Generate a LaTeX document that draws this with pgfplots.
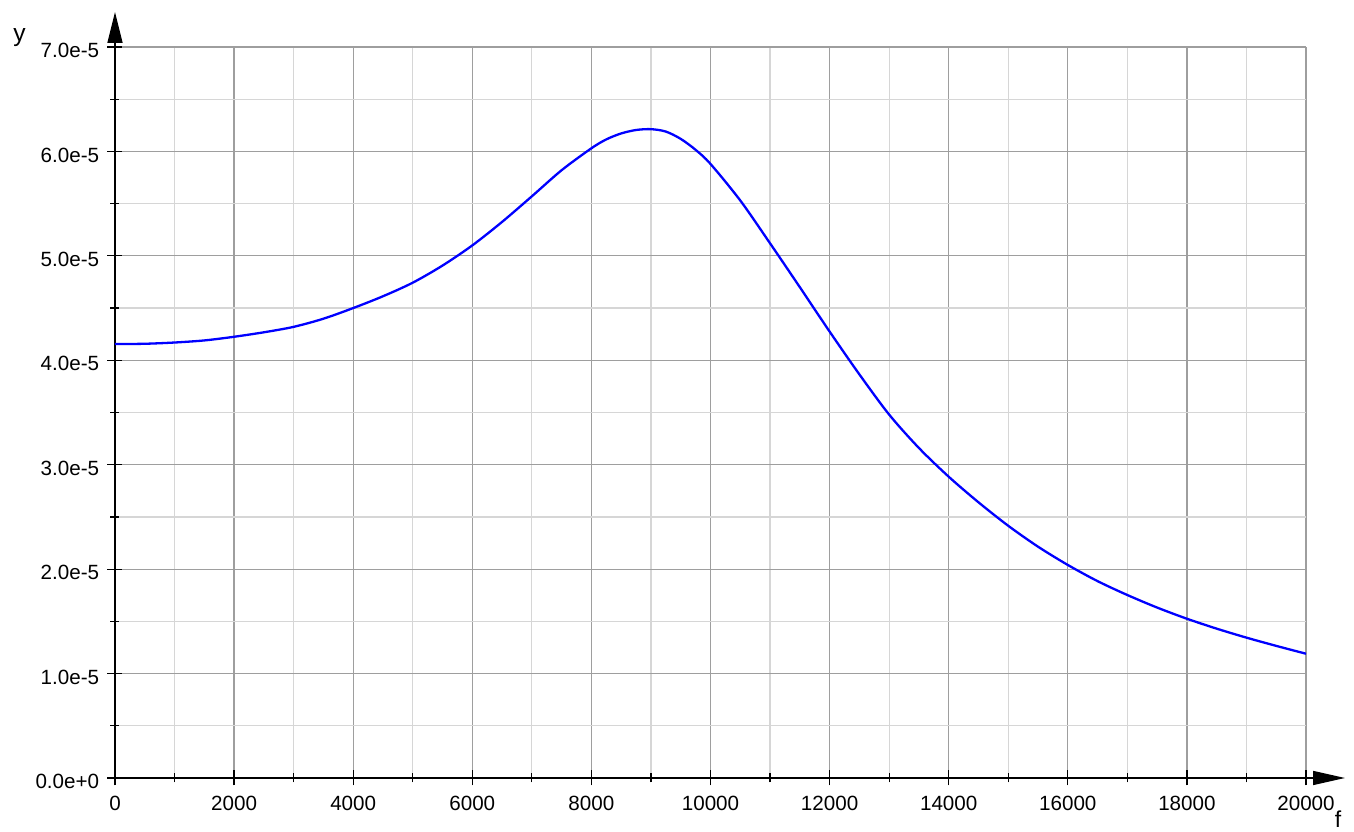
\documentclass[border=0pt]{standalone}
\usepackage{fontspec}
\setmainfont{Liberation Sans}
\usepackage{pgfplots}
\pgfplotsset{compat=1.18}
\usetikzlibrary{arrows.meta,calc}
\definecolor{majgrid}{RGB}{158,158,158}
\definecolor{mingrid}{RGB}{214,214,214}
\begin{document}
\begin{tikzpicture}[font=\fontsize{10.3}{12}\selectfont]
\begin{axis}[
  name=ax,
  scale only axis, width=595.5pt, height=365.5pt,
  xmin=0, xmax=20000, ymin=0, ymax=7,
  scaled x ticks=false, scaled y ticks=false,
  axis lines=left,
  axis line style={line width=0.75pt, black},
  x axis line style={-{Triangle[length=16pt,width=7pt]}, shorten >=-19.5pt},
  y axis line style={-{Triangle[length=15.5pt,width=7.5pt]}, shorten >=-17.5pt},
  xtick={0,2000,4000,6000,8000,10000,12000,14000,16000,18000,20000},
  xticklabels={0,2000,4000,6000,8000,10000,12000,14000,16000,18000,20000},
  ytick={0,1,2,3,4,5,6,7},
  yticklabels={0.0e+0,1.0e-5,2.0e-5,3.0e-5,4.0e-5,5.0e-5,6.0e-5,7.0e-5},
  minor x tick num=1, minor y tick num=1,
  grid=both,
  major grid style={majgrid, line width=0.6pt},
  minor grid style={mingrid, line width=0.6pt},
  tick align=center,
  major tick length=7.5pt, minor tick length=4.5pt,
  tick style={black, line width=0.6pt},
  xticklabel style={anchor=north, inner sep=0pt, yshift=-5pt},
  yticklabel style={anchor=east, inner sep=0pt, xshift=-4pt, yshift=-1.75pt},
  xlabel={f}, ylabel={y},
  xlabel style={font=\fontsize{11.5}{13}\selectfont, at={(rel axis cs:1,0)}, anchor=center, inner sep=0pt, xshift=16pt, yshift=-20.5pt},
  ylabel style={font=\fontsize{12.3}{14}\selectfont, rotate=-90, at={(rel axis cs:0,1)}, anchor=center, inner sep=0pt, xshift=-47.75pt, yshift=4.75pt},
]
\addplot[blue, line width=1.15pt, smooth] coordinates {
(0,4.155) (500,4.158) (1000,4.17) (1500,4.19) (2000,4.225) (2500,4.268)
(3000,4.32) (3500,4.398) (4000,4.50) (4500,4.613) (5000,4.743) (5500,4.907)
(6000,5.10) (6500,5.325) (7000,5.57) (7500,5.82) (8000,6.03) (8250,6.115)
(8500,6.172) (8750,6.205) (9000,6.213) (9250,6.19) (9500,6.12) (9750,6.015)
(10000,5.88) (10500,5.53) (11000,5.12) (11500,4.70) (12000,4.275) (12500,3.865)
(13000,3.48) (13500,3.16) (14000,2.885) (14500,2.64) (15000,2.415) (15500,2.215)
(16000,2.04) (16500,1.885) (17000,1.752) (17500,1.632) (18000,1.525) (18500,1.43)
(19000,1.344) (19500,1.265) (20000,1.19)
};
\end{axis}
\pgfresetboundingbox
\path ($(ax.south west)+(-57.5pt,-27pt)$) rectangle ($(ax.north east)+(24pt,23.5pt)$);
\end{tikzpicture}
\end{document}
